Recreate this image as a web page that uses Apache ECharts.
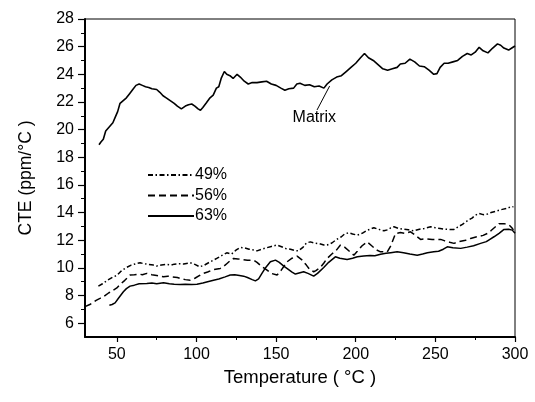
<!DOCTYPE html>
<html>
<head>
<meta charset="utf-8">
<script src="https://cdn.jsdelivr.net/npm/echarts@6/dist/echarts.min.js"></script>
<style>html,body{margin:0;padding:0;background:#fff}#c{width:535px;height:402px}</style>
</head>
<body>
<div id="c"></div>
<script>
const xTicks = [50, 100, 150, 200, 250, 300];
const xMinorTicks = [75, 125, 175, 225, 275];
const yTicks = [6, 8, 10, 12, 14, 16, 18, 20, 22, 24, 26, 28];
const yMinorTicks = [7, 9, 11, 13, 15, 17, 19, 21, 23, 25, 27];
const seriesNames = ['49%', '56%', '63%'];

const matrix = [[38.8,18.9],[40,19.1],[41.5,19.3],[43,19.9],[44.5,20.1],[46,20.3],[47.5,20.5],[49,20.9],[50.5,21.3],[52,21.9],[54,22.1],[56,22.3],[58,22.6],[60,22.9],[62,23.2],[64,23.3],[66,23.2],[68,23.1],[70,23.05],[72,22.95],[75,22.9],[77,22.7],[79,22.45],[81,22.3],[83.5,22.1],[86,21.9],[88,21.7],[90.5,21.5],[93,21.7],[95,21.8],[97,21.85],[99,21.7],[101,21.5],[102.5,21.4],[104,21.6],[106,21.9],[108.5,22.3],[110.5,22.5],[112.5,23.0],[114,23.1],[115.5,23.7],[117.5,24.2],[119,24.0],[121,23.9],[123,23.7],[125.5,24.0],[127.5,23.8],[130,23.5],[132.5,23.3],[135,23.4],[138,23.4],[141,23.45],[144,23.5],[147,23.3],[150,23.2],[153,23.0],[155.5,22.85],[158,22.95],[161,23.0],[163,23.3],[165,23.35],[168,23.2],[171,23.25],[174,23.1],[177,23.15],[180,23.0],[182,23.3],[185,23.6],[188,23.8],[191,23.9],[194,24.2],[197,24.5],[200,24.8],[203,25.2],[205.5,25.5],[208,25.2],[211,25.0],[214,24.7],[217,24.4],[220,24.3],[223,24.4],[226,24.5],[228,24.75],[231,24.8],[234,25.1],[237,24.9],[240,24.6],[243,24.55],[246,24.3],[249,24.0],[251,24.05],[253,24.5],[255.5,24.8],[258,24.8],[261,24.9],[264,25.0],[267,25.3],[270,25.5],[272.5,25.4],[275,25.6],[277.5,25.95],[280,25.7],[283,25.55],[286,25.9],[289,26.2],[291,26.1],[293,25.9],[296,25.75],[298,25.9],[300,26.05]];

const s49 = [[38.4,8.68],[41,8.85],[44,9.1],[47.8,9.35],[50,9.45],[53,9.8],[56,10.03],[59,10.2],[62,10.3],[64.6,10.37],[67,10.3],[70,10.25],[73,10.2],[75,10.13],[78,10.2],[81,10.25],[84,10.2],[86,10.27],[89,10.3],[92,10.28],[96,10.37],[99,10.25],[102,10.08],[105,10.2],[108,10.4],[110.7,10.56],[113,10.7],[116,10.9],[119,11.09],[122,11.0],[125,11.3],[127.5,11.48],[130,11.45],[133,11.35],[136,11.3],[138,11.23],[141,11.35],[144,11.45],[147,11.55],[150.6,11.65],[153,11.55],[156,11.4],[159,11.35],[162,11.25],[164,11.23],[167,11.5],[169,11.8],[171.5,11.88],[174,11.8],[177,11.75],[180,11.65],[182,11.65],[185,11.8],[188,12.06],[191,12.25],[193,12.45],[195.6,12.54],[198,12.45],[201,12.37],[204,12.5],[207,12.7],[209,12.8],[211.4,12.9],[214,12.8],[217.7,12.68],[220,12.75],[222,12.9],[224,12.97],[227,12.85],[230,12.8],[233,12.75],[236.5,12.68],[240,12.8],[243,12.85],[247,12.97],[250,12.9],[253,12.85],[256,12.8],[259,12.78],[261.7,12.78],[264,12.95],[267,13.15],[270,13.4],[273,13.6],[275,13.8],[277.4,13.94],[280,13.85],[282.7,13.89],[285,14.0],[288,14.1],[292,14.23],[295,14.3],[297,14.4],[299,14.42]];

const s56 = [[30,7.2],[31,7.23],[33,7.35],[35,7.5],[37,7.65],[39.4,7.79],[42,7.95],[45,8.2],[47.8,8.39],[50,8.55],[52,8.8],[55,9.1],[58.3,9.48],[61,9.5],[64,9.55],[66,9.5],[68.8,9.6],[72,9.5],[75,9.45],[79.3,9.35],[82,9.4],[85,9.35],[88,9.3],[89.8,9.24],[93,9.15],[96.1,9.11],[99,9.25],[102,9.45],[104.4,9.6],[107,9.7],[110,9.85],[112,9.9],[114.9,9.96],[117,10.1],[119,10.3],[121,10.5],[123.3,10.68],[126,10.65],[129,10.6],[132,10.55],[135.9,10.56],[138,10.4],[141,10.1],[144.3,9.84],[147,9.6],[150.6,9.48],[153,9.8],[156.9,10.44],[160,10.7],[163.2,10.85],[166,10.6],[169,10.2],[171,9.9],[173.6,9.72],[175,9.8],[177.8,10.03],[180,10.35],[182,10.68],[185,11.0],[188,11.3],[190.4,11.65],[193,11.5],[196,11.2],[198.8,10.92],[201,11.2],[204,11.6],[207.2,11.88],[210,11.6],[213,11.3],[215.6,11.16],[219.8,11.16],[222,11.6],[225,12.49],[228,12.55],[231,12.5],[234.4,12.61],[237,12.4],[240.7,12.06],[244,12.1],[248,12.06],[253.3,12.06],[256,11.95],[259,11.85],[261.7,11.77],[265,11.9],[269,12.0],[272.1,12.13],[276,12.25],[280,12.35],[282.7,12.49],[285,12.7],[288,13.0],[290,13.2],[293,13.2],[296.3,13.1],[298,12.9],[299,12.75]];

const s63 = [[45.3,7.3],[47,7.35],[48.9,7.47],[51,7.8],[54.1,8.27],[56,8.5],[58.3,8.68],[61,8.75],[64,8.85],[68.8,8.87],[72,8.9],[75,8.85],[79.3,8.92],[83,8.85],[86,8.82],[89.8,8.8],[93,8.82],[97,8.8],[100.3,8.82],[104,8.9],[107,9.0],[110.7,9.11],[114,9.2],[118,9.35],[121.2,9.48],[124,9.5],[127,9.45],[129.6,9.4],[132,9.3],[135,9.15],[137,9.06],[139,9.2],[141.1,9.6],[143,9.95],[146.4,10.44],[149.6,10.56],[152,10.4],[154.8,10.13],[157,9.95],[160,9.7],[162.1,9.55],[165,9.65],[167.3,9.72],[170,9.6],[173.6,9.4],[176,9.6],[179.9,10.03],[183,10.4],[187.2,10.8],[190,10.7],[194.6,10.61],[198,10.7],[201,10.8],[205,10.85],[209,10.9],[212,10.88],[215.6,10.99],[219,11.05],[222,11.1],[226,11.16],[230,11.1],[234,11.0],[238.6,10.92],[242,11.0],[245,11.1],[249,11.16],[252,11.2],[255,11.35],[257.5,11.52],[261,11.45],[265.9,11.41],[270,11.5],[274,11.6],[278.4,11.77],[282,11.9],[284,12.05],[286.8,12.25],[290,12.5],[293.1,12.78],[296,12.8],[298.3,12.73],[300,12.5]];

const matrixLabelAt = [174, 20.9];
const matrixArrow = [[175.7, 21.42], [183.6, 23.15]];

const FONT = 'Liberation Sans, Arial, sans-serif';
const chart = echarts.init(document.getElementById('c'), null, {renderer: 'canvas'});
const lineBase = {type: 'line', symbol: 'none', showSymbol: false, smooth: false, animation: false, xAxisIndex: 0, yAxisIndex: 0};

chart.setOption({
  backgroundColor: '#fff',
  animation: false,
  grid: {left: 85, right: 20, top: 19, bottom: 65, show: true, borderColor: '#000', borderWidth: 1},
  legend: {
    data: seriesNames, orient: 'vertical', left: 142, top: 162, itemWidth: 46, itemHeight: 14, itemGap: 4.5,
    itemStyle: {opacity: 0},
    textStyle: {fontFamily: FONT, fontSize: 16, color: '#000', padding: [0, 0, 0, -4]}
  },
  xAxis: [{
    type: 'value', min: 30, max: 300, position: 'bottom',
    name: 'Temperature ( °C )', nameLocation: 'middle', nameGap: 31,
    nameTextStyle: {fontFamily: FONT, fontSize: 18.5, color: '#000'},
    axisLine: {show: true, lineStyle: {color: '#000', width: 2}},
    axisTick: {show: true, inside: false, length: 5, customValues: xTicks, lineStyle: {color: '#000', width: 1.2}},
    axisLabel: {customValues: xTicks, fontFamily: FONT, fontSize: 16, color: '#000', margin: 10},
    splitLine: {show: false}
  }, {
    type: 'value', min: 30, max: 300, position: 'bottom',
    axisLine: {show: false},
    axisTick: {show: true, length: 3, customValues: xMinorTicks, lineStyle: {color: '#000', width: 1}},
    axisLabel: {show: false}, splitLine: {show: false}
  }],
  yAxis: [{
    type: 'value', min: 5, max: 28, position: 'left',
    name: 'CTE (ppm/°C )', nameLocation: 'middle', nameGap: 50, nameRotate: 90,
    nameTextStyle: {fontFamily: FONT, fontSize: 17.5, color: '#000'},
    axisLine: {show: true, lineStyle: {color: '#000', width: 2}},
    axisTick: {show: true, inside: false, length: 7, customValues: yTicks, lineStyle: {color: '#000', width: 1.2}},
    axisLabel: {customValues: yTicks, fontFamily: FONT, fontSize: 16, color: '#000', margin: 11},
    splitLine: {show: false}
  }, {
    type: 'value', min: 5, max: 28, position: 'left',
    axisLine: {show: false},
    axisTick: {show: true, length: 4, customValues: yMinorTicks, lineStyle: {color: '#000', width: 1}},
    axisLabel: {show: false}, splitLine: {show: false}
  }],
  series: [
    Object.assign({}, lineBase, {
      name: 'Matrix', data: matrix,
      lineStyle: {color: '#000', width: 1.6, type: 'solid'},
      markLine: {
        silent: true, symbol: ['none', 'none'], animation: false,
        lineStyle: {color: '#000', width: 1, type: 'solid'}, label: {show: false},
        data: [[{coord: matrixArrow[0]}, {coord: matrixArrow[1]}]]
      },
      markPoint: {
        silent: true, animation: false,
        data: [{coord: matrixLabelAt, symbol: 'circle', symbolSize: 1, itemStyle: {color: 'rgba(0,0,0,0)'},
          label: {show: true, position: 'inside', formatter: 'Matrix', fontFamily: FONT, fontSize: 16, color: '#000'}}]
      }
    }),
    Object.assign({}, lineBase, {
      name: seriesNames[0], data: s49, itemStyle: {color: '#000'},
      lineStyle: {color: '#000', width: 1.5, type: [5, 2.5, 1.5, 2.5]}
    }),
    Object.assign({}, lineBase, {
      name: seriesNames[1], data: s56, itemStyle: {color: '#000'},
      lineStyle: {color: '#000', width: 1.5, type: [7, 4]}
    }),
    Object.assign({}, lineBase, {
      name: seriesNames[2], data: s63, itemStyle: {color: '#000'},
      lineStyle: {color: '#000', width: 1.5, type: 'solid'}
    })
  ]
});
</script>
</body>
</html>
